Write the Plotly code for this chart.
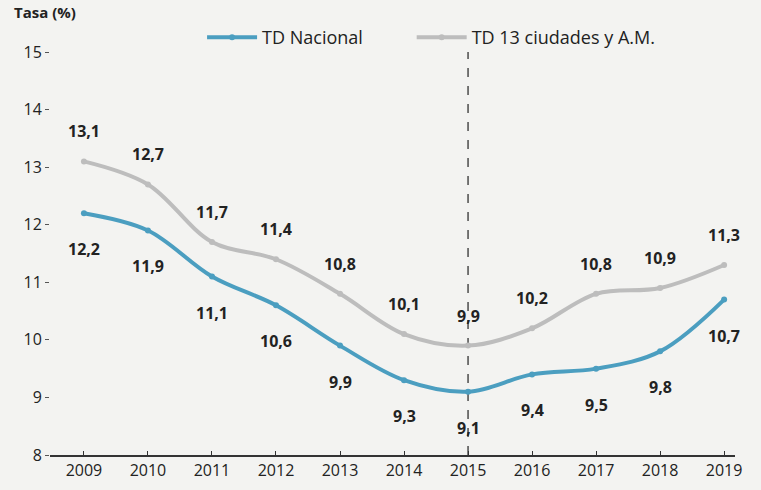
import plotly.graph_objects as go

years = [2009, 2010, 2011, 2012, 2013, 2014, 2015, 2016, 2017, 2018, 2019]
td_nacional = [12.2, 11.9, 11.1, 10.6, 9.9, 9.3, 9.1, 9.4, 9.5, 9.8, 10.7]
td_13_ciudades = [13.1, 12.7, 11.7, 11.4, 10.8, 10.1, 9.9, 10.2, 10.8, 10.9, 11.3]
y_ticks = [8, 9, 10, 11, 12, 13, 14, 15]
marker_year = 2015

BLUE = "#4b9ec0"
GREY = "#bdbdbd"
BG = "#f3f3f1"
FONT = "Open Sans"

def fmt(v):
    return f"{v:.1f}".replace(".", ",")

fig = go.Figure()
fig.add_trace(go.Scatter(
    x=years, y=td_nacional, name="TD Nacional", mode="lines+markers",
    line=dict(color=BLUE, width=4, shape="spline", smoothing=1),
    marker=dict(size=6, color=BLUE), legend="legend"))
fig.add_trace(go.Scatter(
    x=years, y=td_13_ciudades, name="TD 13 ciudades y A.M.", mode="lines+markers",
    line=dict(color=GREY, width=4, shape="spline", smoothing=1),
    marker=dict(size=6, color=GREY), legend="legend2"))

for x, v in zip(years, td_13_ciudades):
    fig.add_annotation(x=x, y=v, text="<b>" + fmt(v) + "</b>", showarrow=False, yshift=30,
                       font=dict(family=FONT, size=16, color="#222"))
for x, v in zip(years, td_nacional):
    fig.add_annotation(x=x, y=v, text="<b>" + fmt(v) + "</b>", showarrow=False, yshift=-36,
                       font=dict(family=FONT, size=16, color="#222"))

fig.add_shape(type="line", xref="x", yref="y", x0=marker_year, x1=marker_year,
              y0=y_ticks[0], y1=y_ticks[-1],
              line=dict(color="#222", width=1.2, dash="dash"), layer="below")

fig.add_annotation(xref="paper", yref="paper", x=-0.055, y=1.0, yshift=28,
                   xanchor="left", yanchor="bottom", text="<b>Tasa (%)</b>",
                   showarrow=False, font=dict(family=FONT, size=15, color="#222"))

legend_style = dict(orientation="h", y=0.99, yanchor="bottom", xanchor="left",
                    yref="paper", font=dict(size=18), itemwidth=50,
                    bgcolor="rgba(0,0,0,0)")

fig.update_layout(
    width=761, height=490,
    margin=dict(l=50, r=26, t=52, b=35, autoexpand=False),
    paper_bgcolor=BG, plot_bgcolor=BG,
    font=dict(family=FONT, size=16, color="#222"),
    showlegend=True,
    legend=dict(x=0.222, **legend_style),
    legend2=dict(x=0.528, **legend_style),
    xaxis=dict(range=[2008.47, 2019.17], tickmode="array", tickvals=years,
               showgrid=False, zeroline=False, showline=True, linecolor="#333",
               linewidth=1.5, ticks="inside", ticklen=4, tickcolor="#333",
               tickfont=dict(size=16)),
    yaxis=dict(range=[8, 15], tickmode="array", tickvals=y_ticks,
               showgrid=False, zeroline=False, showline=False,
               ticks="outside", ticklen=4, tickcolor="#555",
               tickfont=dict(size=16)),
)

fig.write_html("out.html", config={"displayModeBar": False},
               post_script="document.body.style.margin='0';document.body.style.background='%s';" % BG)
